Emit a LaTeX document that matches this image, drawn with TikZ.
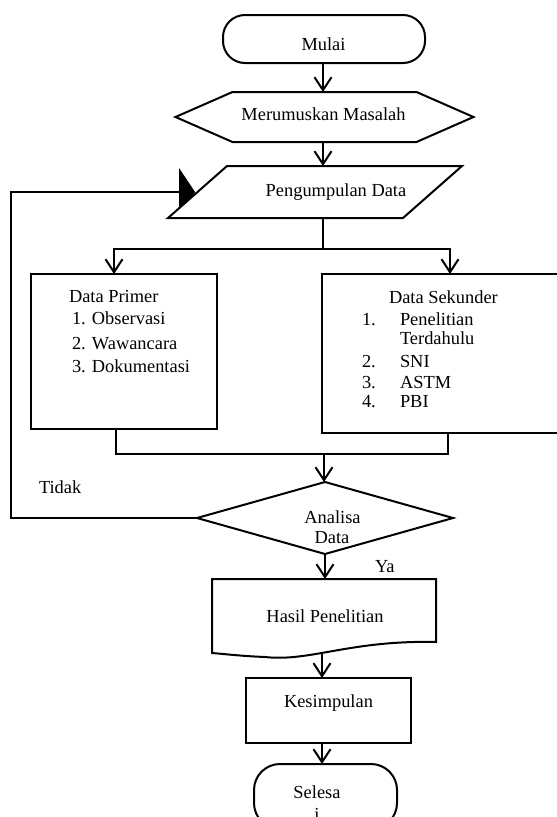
\documentclass[tikz,border=0pt]{standalone}
\usepackage{fontspec}
\setmainfont{Liberation Serif}
\usetikzlibrary{arrows.meta,calc}
\begin{document}
\begin{tikzpicture}[x=1pt,y=-1pt,
  every node/.style={font=\fontsize{18.4}{22}\selectfont, inner sep=0pt, outer sep=0pt},
  anchorbox/.style={draw=none, rectangle, minimum width=#1},
  outline/.style={draw=black, line width=2pt, fill=white, line join=miter},
  thinline/.style={line width=1.1pt},
  arr/.style={line width=2pt, -{Straight Barb[length=13pt,width=17pt,line width=2pt]}},
  thinarr/.style={line width=1.1pt, -{Straight Barb[length=13pt,width=17pt,line width=2pt]}},
  fbarr/.style={line width=1.1pt, -{Triangle[length=16pt,width=48pt]}},
  lbl/.style={anchor=base},
  lblw/.style={anchor=base west}]
\fill[white] (0,0) rectangle (557,817);
\useasboundingbox (0,0) rectangle (557,817);

% frames of the nodes
\node[anchorbox=202pt, minimum height=48pt] (mulai) at (324,39) {};
\node[anchorbox=298pt, minimum height=50pt] (hex) at (324.5,117) {};
\node[anchorbox=294pt, minimum height=52pt] (pg) at (315,192) {};
\node[anchorbox=186pt, minimum height=155pt] (lbox) at (124,351.5) {};
\node[anchorbox=240pt, minimum height=159pt] (rbox) at (442,353.5) {};
\node[anchorbox=256pt, minimum height=72pt] (dia) at (325,518) {};
\node[anchorbox=224pt, minimum height=74pt] (has) at (324,616) {};
\node[anchorbox=165pt, minimum height=65pt] (kes) at (328.5,710.5) {};
\node[anchorbox=143pt, minimum height=65pt] (sel) at (325.5,796.5) {};

% helper coordinates
\coordinate (ax) at (323,0);
\coordinate (hx) at (322,0);
\coordinate (split) at (323,249);
\coordinate (lx) at (114,0);
\coordinate (rx) at (450,0);
\coordinate (lx2) at (116,0);
\coordinate (rx2) at (448,0);
\coordinate (mg) at (324,454);
\coordinate (fb) at (11,192);
\coordinate (pgin) at (195,192);

% connectors
\draw[arr] (mulai.south -| ax) -- (hex.north -| ax);
\draw[arr] (hex.south -| ax) -- (pg.north -| ax);
\draw[thinline] (pg.south -| split) -- (split);
\draw[thinarr] (split) -| (lbox.north -| lx);
\draw[thinarr] (split) -| (rbox.north -| rx);
\draw[thinline] (lbox.south -| lx2) |- (mg) -| (rbox.south -| rx2);
\draw[arr] (mg) -- (mg |- dia.north);
\draw[fbarr] (dia.west) -| (fb) -- (pgin);
\draw[arr] (dia.south) -- (dia.south |- has.north);
\draw[arr] (has.south -| hx) -- (kes.north -| hx);
\draw[arr] (kes.south -| hx) -- (sel.north -| hx);

% outlines
\draw[outline, rounded corners=22pt] (mulai.south west) rectangle (mulai.north east);
\draw[outline] (hex.west) -- ($(hex.north west)+(57,0)$) -- ($(hex.north east)+(-57,0)$)
  -- (hex.east) -- ($(hex.south east)+(-57,0)$) -- ($(hex.south west)+(57,0)$) -- cycle;
\draw[outline] (pg.south west) -- ($(pg.north west)+(59,0)$) -- (pg.north east)
  -- ($(pg.south east)+(-59,0)$) -- cycle;
\draw[outline] (lbox.south west) rectangle (lbox.north east);
\draw[outline] (rbox.south west) rectangle (rbox.north east);
\draw[outline] (dia.west) -- (dia.north) -- (dia.east) -- (dia.south) -- cycle;
\draw[outline] (has.south west) -- (has.north west) -- (has.north east)
  -- ($(has.south east)+(0,-11)$)
  .. controls ($(has.south east)+(-86,-13)$) and ($(has.south east)+(-126,9)$) .. ($(has.south east)+(-171,4)$)
  .. controls ($(has.south west)+(28,3)$) and ($(has.south west)+(13,1)$) .. (has.south west) -- cycle;
\draw[outline] (kes.south west) rectangle (kes.north east);
\draw[outline, rounded corners=26pt] (sel.south west) rectangle (sel.north east);

% texts
\node[lbl] (tmulai) at (323.5,50) {Mulai};
\node[lbl] (thex) at (323.5,120) {Merumuskan Masalah};
\node[lbl] (tpg) at (336,196) {Pengumpulan Data};
\node[lblw] (tp0) at (69,302) {Data Primer};
\node[lblw] (tp1) at (72,324) {1. Observasi};
\node[lblw] (tp2) at (72,349) {2. Wawancara};
\node[lblw] (tp3) at (72,372) {3. Dokumentasi};
\node[lblw] (ts0) at (389,303) {Data Sekunder};
\node[lblw] (ts1n) at (362,325) {1.};
\node[lblw] (ts1) at (400,325) {Penelitian};
\node[lblw] (ts1b) at (400,344) {Terdahulu};
\node[lblw] (ts2n) at (362,367) {2.};
\node[lblw] (ts2) at (400,367) {SNI};
\node[lblw] (ts3n) at (362,388) {3.};
\node[lblw] (ts3) at (400,388) {ASTM};
\node[lblw] (ts4n) at (362,407) {4.};
\node[lblw] (ts4) at (400,407) {PBI};
\node[lblw] (ttidak) at (39,493) {Tidak};
\node[lblw] (tya) at (375,572) {Ya};
\node[lbl] (tdia1) at (332.5,523) {Analisa};
\node[lbl] (tdia2) at (332,543) {Data};
\node[lbl] (thas) at (325,622) {Hasil Penelitian};
\node[lbl] (tkes) at (328.5,707) {Kesimpulan};
\node[lbl] (tsel1) at (317,798) {Selesa};
\node[lbl] (tsel2) at (317,820) {i};
\end{tikzpicture}
\end{document}
